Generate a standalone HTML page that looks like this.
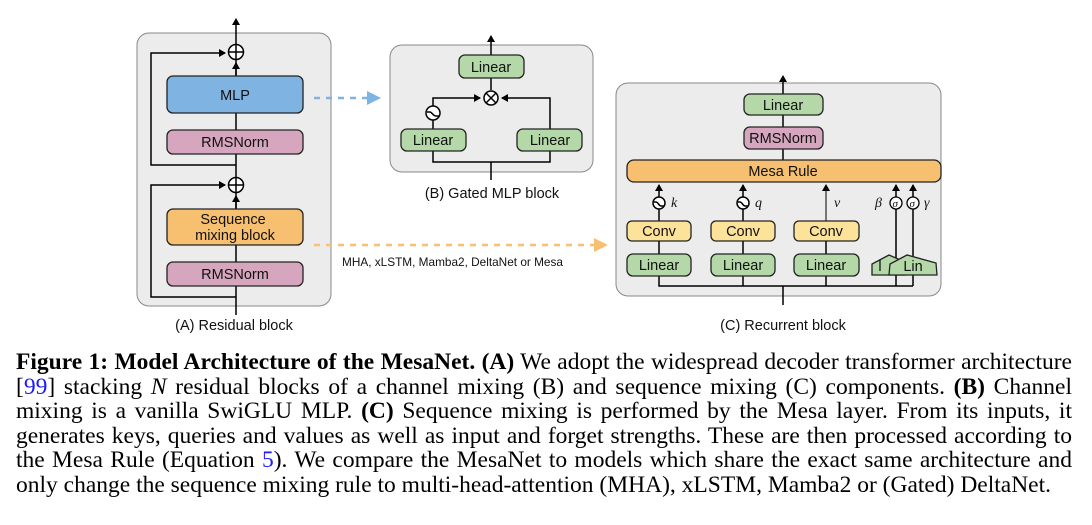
<!DOCTYPE html>
<html><head><style>
body{margin:0;width:1092px;height:525px;background:#fff;position:relative;overflow:hidden}
svg{position:absolute;left:0;top:0}
.cap{position:absolute;left:16px;width:1056px;top:350px;font-family:"Liberation Serif",serif;font-size:23.5px;line-height:24.6px;color:#000}
.cap div{text-align:justify;text-align-last:justify;white-space:nowrap}
.cap div.last{text-align-last:left}
.b{color:#1a1aff}
</style></head><body>
<svg width="1092" height="345" viewBox="0 0 1092 345" font-family="Liberation Sans, sans-serif">
<defs>
<marker id="ar" markerWidth="8" markerHeight="8" refX="6" refY="4" orient="auto" markerUnits="userSpaceOnUse"><path d="M0,0 L7,4 L0,8 z" fill="#000"/></marker>
</defs>
<rect x="137" y="33" width="194" height="273" rx="12" fill="#ececec" stroke="#888" stroke-width="1"/>
<g stroke="#000" stroke-width="1.5" fill="none">
<line x1="236" y1="315" x2="236" y2="193"/>
<line x1="236" y1="177" x2="236" y2="60"/>
<polyline points="236,297 151,297 151,185 225,185" marker-end="url(#ar)"/>
<polyline points="236,165 151,165 151,53 225,53" marker-end="url(#ar)"/>
<line x1="236" y1="209" x2="236" y2="196" marker-end="url(#ar)"/>
<line x1="236" y1="76" x2="236" y2="63" marker-end="url(#ar)"/>
<line x1="236" y1="44" x2="236" y2="19" marker-end="url(#ar)"/>
<circle cx="236" cy="52" r="7.5" fill="#fff"/><line x1="228.5" y1="52" x2="243.5" y2="52"/><line x1="236" y1="44.5" x2="236" y2="59.5"/>
<circle cx="236" cy="185" r="7.5" fill="#fff"/><line x1="228.5" y1="185" x2="243.5" y2="185"/><line x1="236" y1="177.5" x2="236" y2="192.5"/>
</g>
<g stroke="#222" stroke-width="1.3">
<rect x="167" y="76" width="136" height="37" rx="6" fill="#7eb3e2"/>
<rect x="167" y="130" width="136" height="24" rx="6" fill="#d6a6be"/>
<rect x="167" y="209" width="136" height="36" rx="6" fill="#f7bf70"/>
<rect x="167" y="262" width="136" height="24" rx="6" fill="#d6a6be"/>
</g>
<g font-size="14.5" text-anchor="middle" fill="#111">
<text x="235" y="100">MLP</text>
<text x="235" y="147">RMSNorm</text>
<text x="233" y="224">Sequence</text>
<text x="235" y="240">mixing block</text>
<text x="235" y="279">RMSNorm</text>
<text x="234" y="330">(A) Residual block</text>
</g>
<line x1="314" y1="98" x2="370" y2="98" stroke="#7eb3e2" stroke-width="2.5" stroke-dasharray="6,6"/>
<path d="M367,91 L381,98 L367,105 z" fill="#7eb3e2"/>
<line x1="314" y1="245" x2="596" y2="245" stroke="#f7bf70" stroke-width="2.5" stroke-dasharray="6,6"/>
<path d="M594,238 L608,245 L594,252 z" fill="#f7bf70"/>
<text x="342" y="266" font-size="11.8" fill="#111">MHA, xLSTM, Mamba2, DeltaNet or Mesa</text>
<rect x="390" y="45" width="203" height="127" rx="12" fill="#ececec" stroke="#888" stroke-width="1"/>
<g stroke="#000" stroke-width="1.5" fill="none">
<line x1="491" y1="180" x2="491" y2="162"/>
<polyline points="433,151 433,162 550,162 550,151"/>
<line x1="433" y1="129" x2="433" y2="120"/>
<polyline points="433,106 433,98 480,98" marker-end="url(#ar)"/>
<polyline points="550,129 550,98 502,98" marker-end="url(#ar)"/>
<line x1="491" y1="90" x2="491" y2="78"/>
<line x1="491" y1="55" x2="491" y2="36" marker-end="url(#ar)"/>
<circle cx="491" cy="98" r="7" fill="#fff"/><line x1="486" y1="93" x2="496" y2="103"/><line x1="496" y1="93" x2="486" y2="103"/>
<circle cx="433" cy="113" r="7" fill="#fff"/><path d="M427,112 L430,112 C432,112 433,116 436,116 L439,116"/>
</g>
<g stroke="#222" stroke-width="1.3" fill="#b5d8a8">
<rect x="459" y="55" width="65" height="23" rx="6"/>
<rect x="401" y="129" width="65" height="22" rx="6"/>
<rect x="517" y="129" width="65" height="22" rx="6"/>
</g>
<g font-size="14.5" text-anchor="middle" fill="#111">
<text x="491" y="72">Linear</text>
<text x="433" y="145">Linear</text>
<text x="550" y="145">Linear</text>
<text x="492" y="198">(B) Gated MLP block</text>
</g>
<rect x="616" y="83" width="325" height="213" rx="12" fill="#ececec" stroke="#888" stroke-width="1"/>
<g stroke="#000" stroke-width="1.5" fill="none">
<line x1="783" y1="305" x2="783" y2="286"/>
<polyline points="659,276 659,286 913,286"/>
<line x1="743" y1="276" x2="743" y2="286"/>
<line x1="826" y1="276" x2="826" y2="286"/>
<line x1="896" y1="286" x2="896" y2="208"/>
<line x1="913" y1="286" x2="913" y2="208"/>
<line x1="659" y1="241" x2="659" y2="254"/><line x1="743" y1="241" x2="743" y2="254"/><line x1="826" y1="241" x2="826" y2="254"/>
<line x1="659" y1="221" x2="659" y2="209"/><line x1="743" y1="221" x2="743" y2="209"/>
<line x1="659" y1="197" x2="659" y2="185" marker-end="url(#ar)"/>
<line x1="743" y1="197" x2="743" y2="185" marker-end="url(#ar)"/>
<line x1="826" y1="221" x2="826" y2="185" stroke-width="1" marker-end="url(#ar)"/>
<line x1="896" y1="197" x2="896" y2="185" marker-end="url(#ar)"/>
<line x1="913" y1="197" x2="913" y2="185" marker-end="url(#ar)"/>
<line x1="783" y1="149" x2="783" y2="160"/>
<line x1="783" y1="115" x2="783" y2="127"/>
<line x1="783" y1="94" x2="783" y2="76" marker-end="url(#ar)"/>
<circle cx="659" cy="203" r="6" fill="#fff"/><path d="M654,202 L656,202 C658,202 659,206 661,206 L664,206"/>
<circle cx="743" cy="203" r="6" fill="#fff"/><path d="M738,202 L740,202 C742,202 743,206 745,206 L748,206"/>
</g>
<g stroke="#222" stroke-width="1.3">
<rect x="744" y="94" width="79" height="21" rx="6" fill="#b5d8a8"/>
<rect x="744" y="127" width="79" height="22" rx="6" fill="#d6a6be"/>
<rect x="627" y="160" width="314" height="22" rx="7" fill="#f7bf70"/>
<rect x="627" y="221" width="64" height="20" rx="5" fill="#fde29a"/>
<rect x="711" y="221" width="64" height="20" rx="5" fill="#fde29a"/>
<rect x="794" y="221" width="65" height="20" rx="5" fill="#fde29a"/>
<rect x="627" y="254" width="64" height="22" rx="6" fill="#b5d8a8"/>
<rect x="711" y="254" width="64" height="22" rx="6" fill="#b5d8a8"/>
<rect x="794" y="254" width="65" height="22" rx="6" fill="#b5d8a8"/>
<path d="M872,275 L872,264 L889,255 L905,262 L905,275 z" fill="#b5d8a8"/>
<path d="M889,275 L890,264 L907,255 L936,263 L937,275 z" fill="#b5d8a8"/>
</g>
<g stroke="#000" stroke-width="1.3" fill="#fff">
<circle cx="896" cy="203" r="6"/><circle cx="913" cy="203" r="6"/>
</g>
<g font-size="14.5" text-anchor="middle" fill="#111">
<text x="783" y="110">Linear</text>
<text x="783" y="143">RMSNorm</text>
<text x="783" y="176">Mesa Rule</text>
<text x="659" y="236">Conv</text><text x="743" y="236">Conv</text><text x="826" y="236">Conv</text>
<text x="659" y="270">Linear</text><text x="743" y="270">Linear</text><text x="826" y="270">Linear</text>
<text x="913" y="271">Lin</text>
<text x="880" y="271">l</text>
<text x="783" y="330">(C) Recurrent block</text>
</g>
<g font-family="Liberation Serif, serif" font-style="italic" font-size="14" fill="#111">
<text x="671" y="207">k</text><text x="755" y="207">q</text><text x="834" y="207">v</text>
<text x="875" y="207">β</text><text x="924" y="207">γ</text>
<text x="892.5" y="207" font-size="11">σ</text><text x="909.5" y="207" font-size="11">σ</text>
</g>
</svg>
<div class="cap">
<div><b>Figure 1: Model Architecture of the MesaNet. (A)</b> We adopt the widespread decoder transformer architecture</div>
<div>[<span class="b">99</span>] stacking <i>N</i> residual blocks of a channel mixing (B) and sequence mixing (C) components. <b>(B)</b> Channel</div>
<div>mixing is a vanilla SwiGLU MLP. <b>(C)</b> Sequence mixing is performed by the Mesa layer. From its inputs, it</div>
<div>generates keys, queries and values as well as input and forget strengths. These are then processed according to</div>
<div>the Mesa Rule (Equation <span class="b">5</span>). We compare the MesaNet to models which share the exact same architecture and</div>
<div class="last">only change the sequence mixing rule to multi-head-attention (MHA), xLSTM, Mamba2 or (Gated) DeltaNet.</div>
</div>
</body></html>
